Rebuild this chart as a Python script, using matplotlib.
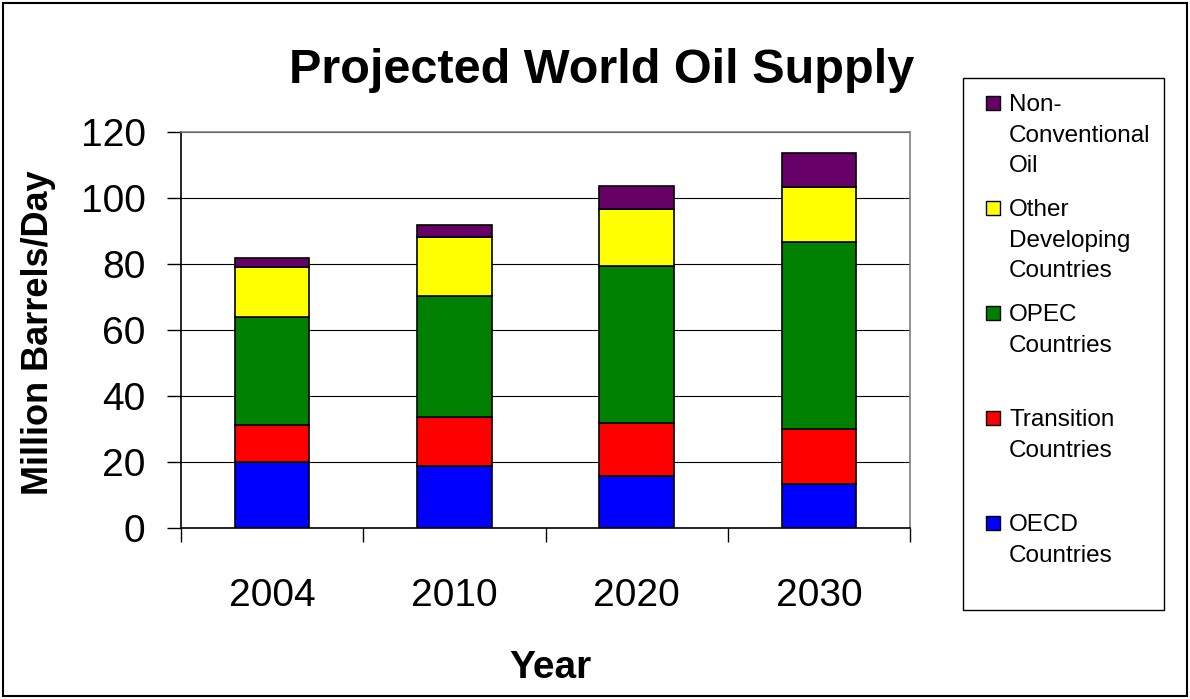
import numpy as np
import matplotlib
matplotlib.use("Agg")
import matplotlib.pyplot as plt
from matplotlib.patches import Rectangle

plt.rcParams['font.family'] = ['Liberation Sans', 'DejaVu Sans']

years = ["2004", "2010", "2020", "2030"]

# million barrels per day, bottom to top of each stack
oecd = [19.9, 18.9, 15.7, 13.3]
transition = [11.3, 14.7, 16.0, 16.7]
opec = [32.6, 36.8, 47.6, 56.8]
other_developing = [15.3, 17.7, 17.5, 16.5]
non_conventional = [2.6, 3.6, 6.7, 10.3]

series = [oecd, transition, opec, other_developing, non_conventional]
names = ["OECD\nCountries", "Transition\nCountries", "OPEC\nCountries",
         "Other\nDeveloping\nCountries", "Non-\nConventional\nOil"]
colors = ["#0000FF", "#FF0000", "#008000", "#FFFF00", "#660066"]

W, H = 1190, 699


def fx(x):
    return x / W


def fy(y):
    return 1 - y / H


fig = plt.figure(figsize=(W / 100, H / 100), dpi=100)
ax = fig.add_axes([fx(181), fy(528), fx(910 - 181), (528 - 132) / H])

x = np.arange(len(years))
bottom = np.zeros(len(years))
for vals, col in zip(series, colors):
    ax.bar(x, vals, width=0.41, bottom=bottom, color=col,
           edgecolor="black", linewidth=1.2, zorder=3)
    bottom += np.array(vals)

ax.set_xlim(-0.5, len(years) - 0.5)
ax.set_ylim(0, 120)
ax.set_yticks(range(0, 121, 20))
ax.tick_params(axis="y", labelsize=28, length=10, width=1, pad=15.5,
               direction="out")
ax.set_xticks(x)
ax.set_xticklabels(years)
ax.tick_params(axis="x", which="major", labelsize=28, length=0, pad=36)
ax.set_xticks(np.arange(-0.5, len(years), 1), minor=True)
ax.tick_params(axis="x", which="minor", length=10, width=1, direction="out")

ax.yaxis.grid(True, color="black", linewidth=0.8, zorder=0)
ax.set_axisbelow(True)
ax.spines["left"].set_color("black")
ax.spines["bottom"].set_color("black")
ax.spines["top"].set_color("#808080")
ax.spines["right"].set_color("#808080")
for s in ax.spines.values():
    s.set_linewidth(1.2)
    s.set_zorder(4)

fig.text(fx(602), fy(83), "Projected World Oil Supply", ha="center",
         va="baseline", fontsize=35, fontweight="bold")
fig.text(fx(550), fy(678), "Year", ha="center", va="baseline",
         fontsize=28, fontweight="bold")
fig.text(fx(39), fy(333), "Million Barrels/Day", rotation=90, ha="center",
         va="center", fontsize=26, fontweight="bold")

# legend box drawn by hand, top entry first
fig.patches.append(Rectangle((fx(963), fy(610)), fx(1164 - 963), (610 - 78) / H,
                             transform=fig.transFigure, fill=False,
                             edgecolor="black", linewidth=1))
for i, (name, col) in enumerate(zip(names[::-1], colors[::-1])):
    yc = 103 + i * 105
    fig.patches.append(Rectangle((fx(986), fy(yc + 7)), fx(14), 14 / H,
                                 transform=fig.transFigure, facecolor=col,
                                 edgecolor="black", linewidth=1))
    fig.text(fx(1009), fy(yc - 8.6), name, ha="left", va="top",
             fontsize=17.5, linespacing=1.5)

# outer frame
fig.patches.append(Rectangle((fx(3), fy(696)), fx(1184), 693 / H,
                             transform=fig.transFigure, fill=False,
                             edgecolor="black", linewidth=1.5))

fig.savefig("out.png", dpi=100)
